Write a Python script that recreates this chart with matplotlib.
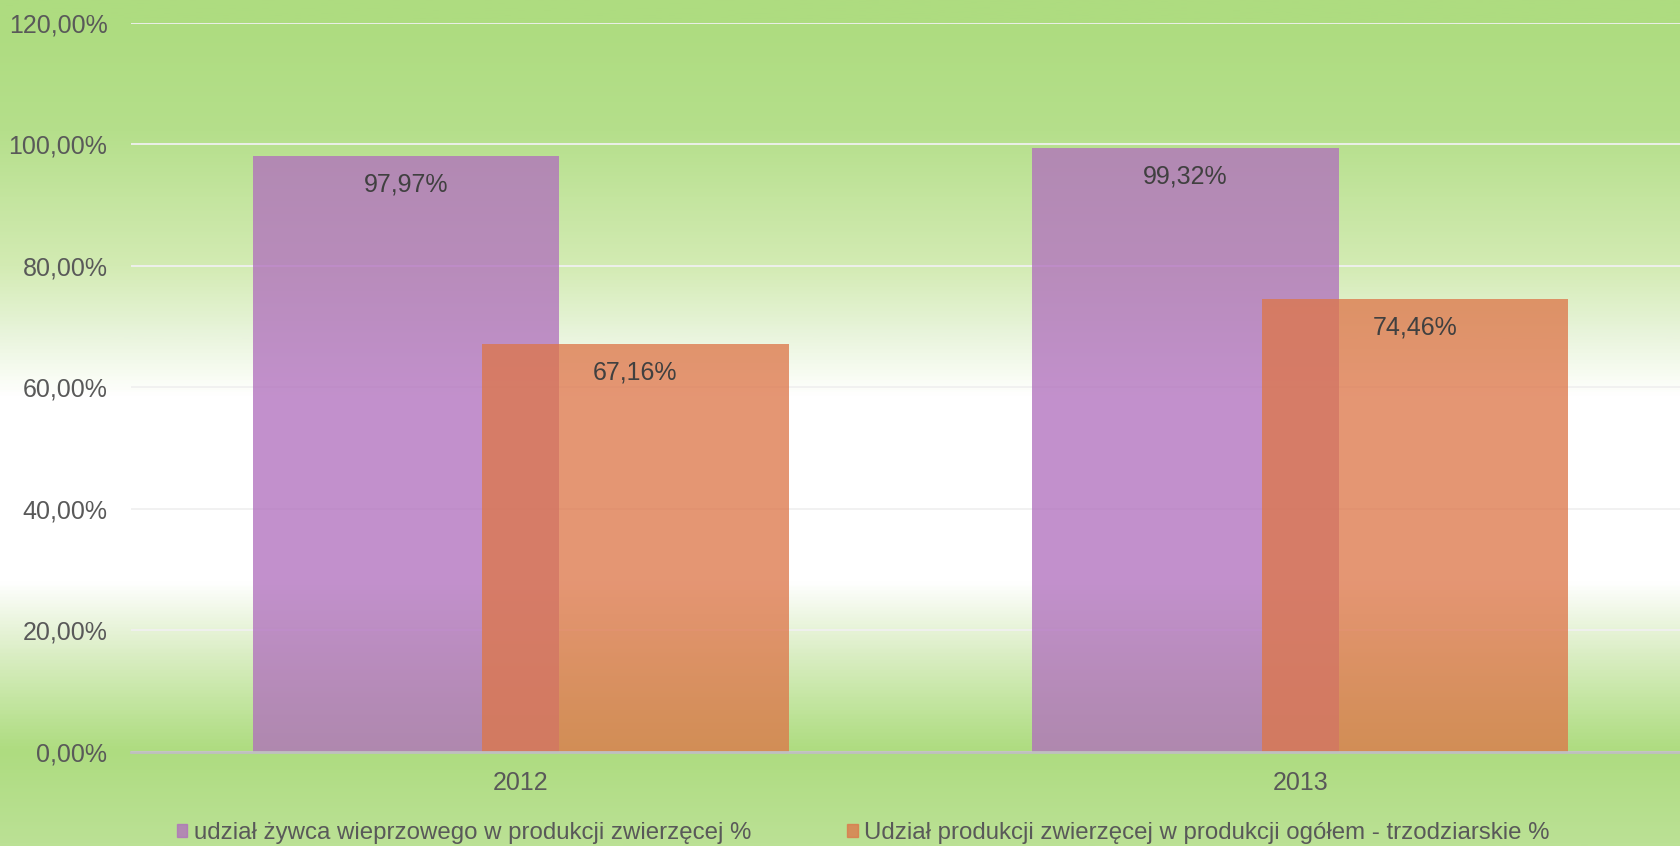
import numpy as np
import matplotlib
matplotlib.use("Agg")
import matplotlib.pyplot as plt
from matplotlib.colors import LinearSegmentedColormap
from matplotlib.patches import Patch

# chart data
years = ["2012", "2013"]
pork_share = [97.97, 99.32]        # udział żywca wieprzowego
livestock_share = [67.16, 74.46]   # udział produkcji zwierzęcej
series_names = [
    "udział żywca wieprzowego w produkcji zwierzęcej %",
    "Udział produkcji zwierzęcej w produkcji ogółem - trzodziarskie %",
]
y_ticks = [0, 20, 40, 60, 80, 100, 120]

plt.rcParams["font.family"] = ["Liberation Sans", "DejaVu Sans"]
plt.rcParams["font.size"] = 18

W, H = 1680, 846
fig = plt.figure(figsize=(W / 100, H / 100), dpi=100)

# vertical gradient behind everything (green -> white -> green)
stops = [
    (0.000, "#AEDC80"),
    (0.030, "#AEDC80"),
    (0.154, "#B5DF8B"),
    (0.314, "#D3EBB3"),
    (0.400, "#EAF5DE"),
    (0.450, "#FAFDF6"),
    (0.470, "#FFFFFF"),
    (0.690, "#FFFFFF"),
    (0.757, "#E2F1D0"),
    (0.827, "#C5E6A3"),
    (0.889, "#AEDC80"),
    (1.000, "#BBE195"),
]
bg_cmap = LinearSegmentedColormap.from_list("bg", stops)
bg = fig.add_axes([0, 0, 1, 1], zorder=-10)
bg.imshow(np.linspace(0, 1, 500).reshape(-1, 1), aspect="auto", cmap=bg_cmap,
          extent=[0, 1, 0, 1], origin="upper")
bg.axis("off")

ax = fig.add_axes([131 / W, 1 - 752 / H, (1690 - 131) / W, (752 - 22.5) / H])
ax.patch.set_alpha(0)

x = np.arange(len(years))
width = 0.393
offset = 0.147
purple = "#B06FBD"
orange = "#DD7649"

bars1 = ax.bar(x - offset, pork_share, width, color=purple, alpha=0.77, zorder=2)
bars2 = ax.bar(x + offset, livestock_share, width, color=orange, alpha=0.77, zorder=3)

for bars in (bars1, bars2):
    for b in bars:
        ax.annotate(f"{b.get_height():.2f}%".replace(".", ","),
                    (b.get_x() + b.get_width() / 2, b.get_height()),
                    xytext=(0, -20.5), textcoords="offset points",
                    ha="center", va="center", color="#404040", fontsize=18, zorder=5)

ax.set_xlim(-0.5, 1.5)
ax.set_ylim(0, 120)
ax.set_yticks(y_ticks)
ax.set_yticklabels([f"{v:.2f}%".replace(".", ",") for v in y_ticks])
ax.set_xticks(x)
ax.set_xticklabels(years)
ax.tick_params(axis="both", length=0, colors="#595959", labelsize=18)
ax.tick_params(axis="y", pad=17)
ax.tick_params(axis="x", pad=14)

ax.grid(axis="y", color="#F0F0F0", linewidth=1.3, zorder=1)
ax.set_axisbelow(True)
for s in ["top", "right", "left"]:
    ax.spines[s].set_visible(False)
ax.spines["bottom"].set_color("#BFBFBF")
ax.spines["bottom"].set_linewidth(2)
ax.spines["bottom"].set_zorder(4)

handles = [Patch(color=purple, alpha=0.77), Patch(color=orange, alpha=0.77)]
fig.legend(handles, series_names, loc="center", bbox_to_anchor=(863 / W, 1 - 833 / H),
           ncol=2, frameon=False, handlelength=0.45, handleheight=0.45,
           handletextpad=0.25, columnspacing=4.0, fontsize=17.3, labelcolor="#595959")

fig.savefig("out.png", dpi=100)
